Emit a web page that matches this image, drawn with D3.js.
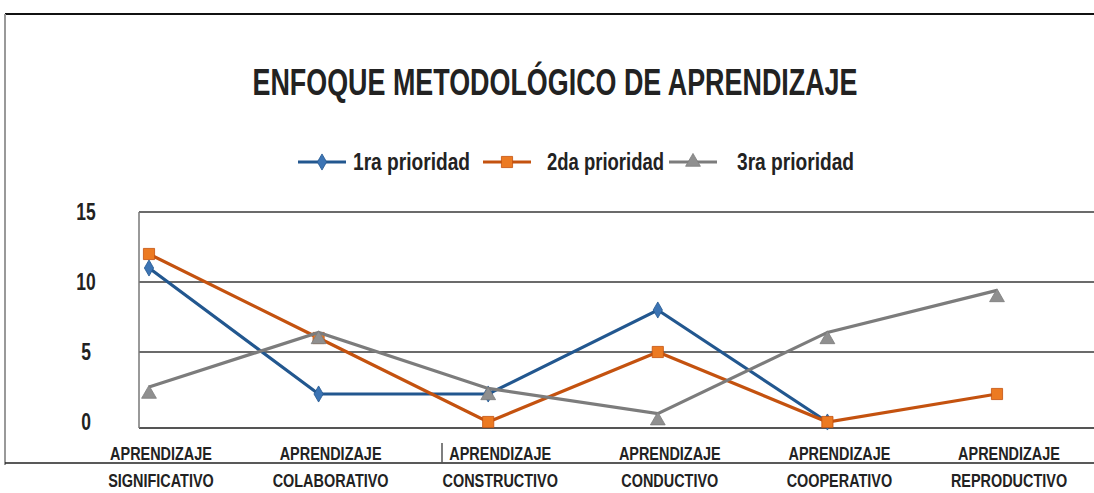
<!DOCTYPE html>
<html>
<head>
<meta charset="utf-8">
<script src="https://cdn.jsdelivr.net/npm/d3@7"></script>
<style>
  body { margin: 0; background: #fff; }
  text { font-family: "Liberation Sans", Arial, sans-serif; font-weight: bold; fill: #222; }
</style>
</head>
<body>
<svg></svg>
<script>
// enfoque metodologico chart

const width = 1094;
const height = 493;
const narrow = 0.76; // arial narrow look

const categories = ["SIGNIFICATIVO", "COLABORATIVO", "CONSTRUCTIVO", "CONDUCTIVO", "COOPERATIVO", "REPRODUCTIVO"];
const prefix = "APRENDIZAJE";
const prioridad1 = [11, 2, 2, 8, 0, null];
const prioridad2 = [12, 6, 0, 5, 0, 2];
const prioridad3 = [2.5, 6.4, 2.4, 0.6, 6.4, 9.4];
const seriesNames = ["1ra prioridad", "2da prioridad", "3ra prioridad"];
const yTicks = [0, 5, 10, 15];

const series = [
  { name: seriesNames[0], values: prioridad1, line: "#22578f", fill: "#3c74b4", symbol: d3.symbolDiamond, size: 75 },
  { name: seriesNames[1], values: prioridad2, line: "#c4520f", fill: "#ec7a22", symbol: d3.symbolSquare, size: 125 },
  { name: seriesNames[2], values: prioridad3, line: "#7c7c7c", fill: "#8f8f8f", symbol: d3.symbolTriangle, size: 95 }
];

let svg = d3.select("svg")
    .attr("width", width)
    .attr("height", height)

// frame
svg.append("line").attr("x1", 5).attr("x2", width).attr("y1", 14).attr("y2", 14)
    .attr("stroke", "#111").attr("stroke-width", 2)
svg.append("line").attr("x1", 5).attr("x2", 5).attr("y1", 14).attr("y2", 465)
    .attr("stroke", "#999").attr("stroke-width", 2)
svg.append("line").attr("x1", 5).attr("x2", width).attr("y1", 463).attr("y2", 463)
    .attr("stroke", "#222").attr("stroke-width", 1.5)
svg.append("line").attr("x1", 442).attr("x2", 442).attr("y1", 443).attr("y2", 463)
    .attr("stroke", "#555").attr("stroke-width", 1.5)

// title
svg.append("text")
    .attr("x", 555).attr("y", 95)
    .attr("text-anchor", "middle")
    .attr("font-size", 37)
    .attr("textLength", 605)
    .attr("lengthAdjust", "spacingAndGlyphs")
    .text("ENFOQUE METODOLÓGICO DE APRENDIZAJE")

const x = d3.scalePoint().domain(categories).range([149, 997]);
const y = d3.scaleLinear().domain([0, 15]).range([422, 212]);

const plotLeft = 139;
const axisY = y(0) + 6;

// gridlines
svg.append("g")
    .selectAll("line")
    .data(yTicks.filter(d => d > 0))
    .join("line")
    .attr("x1", plotLeft).attr("x2", width)
    .attr("y1", d => y(d)).attr("y2", d => y(d))
    .attr("stroke", "#3a3a3a").attr("stroke-width", 1.3)

// axes lines
svg.append("line").attr("x1", plotLeft).attr("x2", width).attr("y1", axisY).attr("y2", axisY)
    .attr("stroke", "#555").attr("stroke-width", 2)
svg.append("line").attr("x1", plotLeft).attr("x2", plotLeft).attr("y1", y(15)).attr("y2", axisY)
    .attr("stroke", "#777").attr("stroke-width", 1.5)

// y labels
svg.append("g")
    .selectAll("text")
    .data(yTicks)
    .join("text")
    .attr("transform", d => `translate(86,${y(d)}) scale(${narrow},1)`)
    .attr("dy", "0.36em")
    .attr("text-anchor", "middle")
    .attr("font-size", 23)
    .text(d => d)

// category labels
const cat = svg.append("g")
    .selectAll("g")
    .data(categories)
    .join("g")
    .attr("transform", d => `translate(${x(d) + 12},0) scale(${narrow},1)`)
cat.append("text")
    .attr("y", 460).attr("text-anchor", "middle").attr("font-size", 19)
    .attr("fill", "#333")
    .text(prefix)
cat.append("text")
    .attr("y", 487).attr("text-anchor", "middle").attr("font-size", 19)
    .attr("fill", "#333")
    .text(d => d)

// lines + markers
const line = d3.line()
    .defined(d => d[1] != null)
    .x(d => x(d[0]))
    .y(d => y(d[1]));

series.forEach(s => {
  const pts = categories.map((c, i) => [c, s.values[i]]);
  svg.append("path")
      .datum(pts)
      .attr("d", line)
      .attr("fill", "none")
      .attr("stroke", s.line)
      .attr("stroke-width", 3.2)
      .attr("stroke-linejoin", "miter")
  const tri = s.symbol === d3.symbolTriangle;
  svg.append("g")
      .selectAll("path")
      .data(pts.filter(d => d[1] != null))
      .join("path")
      .attr("d", d3.symbol().type(s.symbol).size(s.size))
      .attr("transform", d => `translate(${x(d[0])},${y(d[1]) + (tri ? 7 : 0)})`)
      .attr("fill", s.fill)
      .attr("stroke", s.line)
      .attr("stroke-width", 0.8)
});

// legend
const legendX = [298, 483, 669];
const legendTextX = [353, 547, 737];
const legendY = 162;
series.forEach((s, i) => {
  svg.append("line")
      .attr("x1", legendX[i]).attr("x2", legendX[i] + 48)
      .attr("y1", legendY).attr("y2", legendY)
      .attr("stroke", s.line).attr("stroke-width", 3.2)
  svg.append("path")
      .attr("d", d3.symbol().type(s.symbol).size(s.size)())
      .attr("transform", `translate(${legendX[i] + 24},${legendY})`)
      .attr("fill", s.fill).attr("stroke", s.line).attr("stroke-width", 0.8)
  svg.append("text")
      .attr("x", legendTextX[i]).attr("y", legendY + 8)
      .attr("font-size", 23)
      .attr("textLength", 117)
      .attr("lengthAdjust", "spacingAndGlyphs")
      .text(s.name)
});
</script>
</body>
</html>
